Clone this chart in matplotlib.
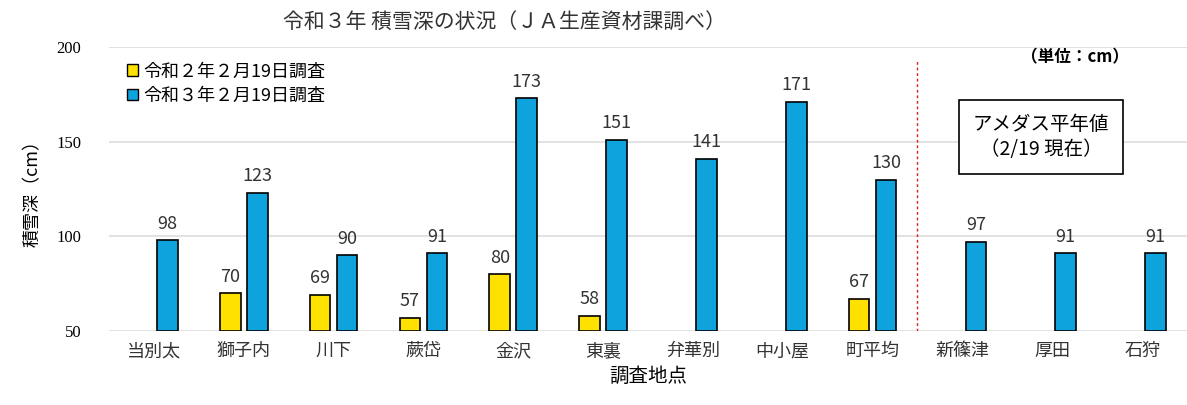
import matplotlib
matplotlib.use("Agg")
import matplotlib.pyplot as plt
import numpy as np

plt.rcParams['font.family'] = ['Noto Sans CJK JP', 'DejaVu Sans']

# データ
地点 = ['当別太', '獅子内', '川下', '蕨岱', '金沢', '東裏', '弁華別', '中小屋', '町平均',
      '新篠津', '厚田', '石狩']
令和2年 = [None, 70, 69, 57, 80, 58, None, None, 67, None, None, None]
令和3年 = [98, 123, 90, 91, 173, 151, 141, 171, 130, 97, 91, 91]
yticks = [50, 100, 150, 200]

fig = plt.figure(figsize=(11.87, 4.05), dpi=100)
ax = fig.add_axes([109 / 1187, 1 - 331 / 405, 1078 / 1187, 284 / 405])

x = np.arange(len(地点))
w = 0.23
off = 0.15

for i, v in enumerate(令和2年):
    if v is None:
        continue
    ax.bar(x[i] - off, v - 50, w, bottom=50, color='#FFE100', edgecolor='black', linewidth=1.2, zorder=3)
    ax.text(x[i] - off, v + 4, str(v), ha='center', va='bottom', fontsize=13, color='#333333')

for i, v in enumerate(令和3年):
    ax.bar(x[i] + off, v - 50, w, bottom=50, color='#0FA3DE', edgecolor='black', linewidth=1.2, zorder=3)
    ax.text(x[i] + off, v + 4, str(v), ha='center', va='bottom', fontsize=13, color='#333333')

ax.set_xlim(-0.5, len(地点) - 0.5)
ax.set_ylim(50, 200)
ax.set_yticks(yticks)
ax.set_yticklabels([str(t) for t in yticks], family='Liberation Serif', fontsize=12)
ax.set_xticks(x)
ax.set_xticklabels(地点, fontsize=13, color='#333333')
ax.tick_params(length=0, pad=8)
ax.tick_params(axis='y', pad=20)
ax.grid(axis='y', color='#DDDDDD', linewidth=1.2, zorder=0)
for s in ax.spines.values():
    s.set_visible(False)

ax.set_ylabel('積雪深（cm）', fontsize=13, labelpad=10)
ax.set_xlabel('調査地点', fontsize=14, labelpad=4)

# 区切り線
ax.axvline(8.5, ymin=0.0, ymax=0.95, color='#D62020', linestyle=(0, (2, 2)), linewidth=1)

# 凡例
ax.bar(0, 0, 0, color='#FFE100', edgecolor='black', label='令和２年２月19日調査')
ax.bar(0, 0, 0, color='#0FA3DE', edgecolor='black', label='令和３年２月19日調査')
ax.legend(loc='upper left', bbox_to_anchor=(0.005, 0.99), frameon=False, fontsize=13,
          handlelength=0.6, handleheight=0.6, handletextpad=0.3, labelspacing=0.35,
          borderpad=0.2)

fig.text(505 / 1187, 1 - 22 / 405, '令和３年 積雪深の状況（ＪＡ生産資材課調べ）',
         ha='center', va='center', fontsize=15, color='#333333')

fig.text(1075 / 1187, 1 - 57 / 405, '（単位：cm）', ha='center', va='center',
         fontsize=12, fontweight='bold')

fig.text(1041 / 1187, 1 - 137 / 405, 'アメダス平年値\n（2/19 現在）', ha='center', va='center',
         fontsize=14, linespacing=1.3,
         bbox=dict(boxstyle='square,pad=0.7', facecolor='white', edgecolor='black', linewidth=1.2))

fig.savefig('out.png', dpi=100)
